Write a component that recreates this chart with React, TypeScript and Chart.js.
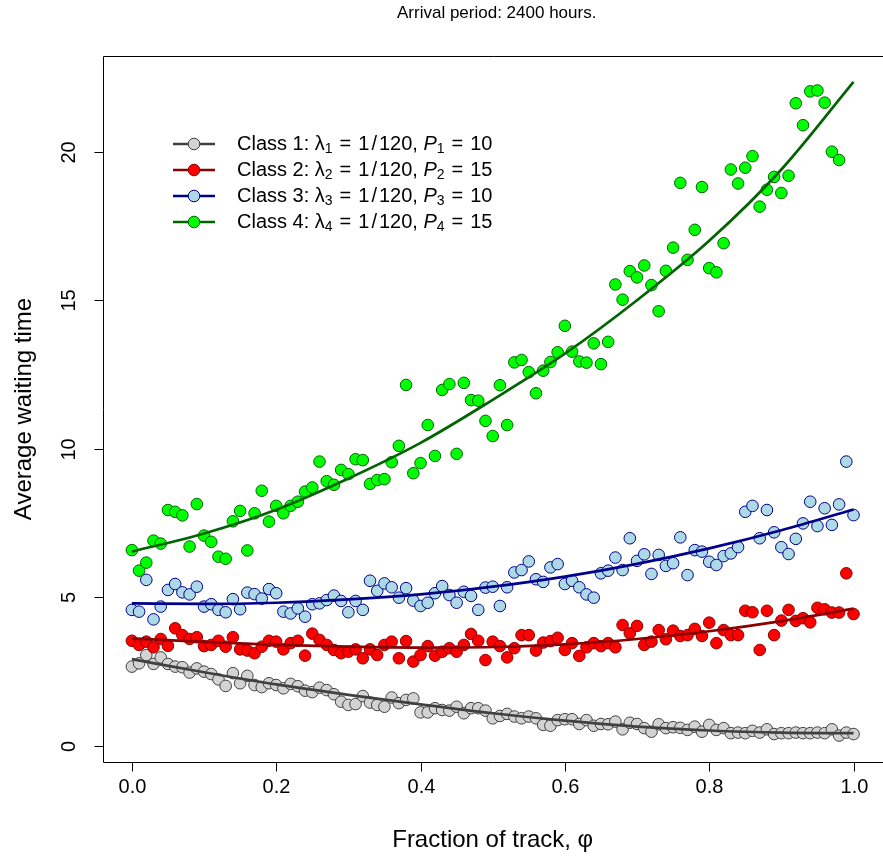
import React, { useEffect, useRef } from "react";
import { Chart, registerables } from "chart.js";

Chart.register(...registerables);

const FONT = '"Liberation Sans", Arial, Helvetica, sans-serif';

const titleText = "Arrival period: 2400 hours.";
const xAxisTitle = "Fraction of track, \u03C6";
const yAxisTitle = "Average waiting time";

const xTickValues = [0, 0.2, 0.4, 0.6, 0.8, 1.0];
const xTickLabels = ["0.0", "0.2", "0.4", "0.6", "0.8", "1.0"];
const yTickValues = [0, 5, 10, 15, 20];
const yTickLabels = ["0", "5", "10", "15", "20"];

const phi = [
  0.0, 0.01, 0.02, 0.03, 0.04, 0.05, 0.06, 0.07, 0.08, 0.09,
  0.1, 0.11, 0.12, 0.13, 0.14, 0.15, 0.16, 0.17, 0.18, 0.19,
  0.2, 0.21, 0.22, 0.23, 0.24, 0.25, 0.26, 0.27, 0.28, 0.29,
  0.3, 0.31, 0.32, 0.33, 0.34, 0.35, 0.36, 0.37, 0.38, 0.39,
  0.4, 0.41, 0.42, 0.43, 0.44, 0.45, 0.46, 0.47, 0.48, 0.49,
  0.5, 0.51, 0.52, 0.53, 0.54, 0.55, 0.56, 0.57, 0.58, 0.59,
  0.6, 0.61, 0.62, 0.63, 0.64, 0.65, 0.66, 0.67, 0.68, 0.69,
  0.7, 0.71, 0.72, 0.73, 0.74, 0.75, 0.76, 0.77, 0.78, 0.79,
  0.8, 0.81, 0.82, 0.83, 0.84, 0.85, 0.86, 0.87, 0.88, 0.89,
  0.9, 0.91, 0.92, 0.93, 0.94, 0.95, 0.96, 0.97, 0.98, 0.99,
  1.0,
];

const class1 = [
  2.67, 2.78, 3.06, 2.76, 2.98, 2.76, 2.67, 2.65, 2.47, 2.61,
  2.50, 2.42, 2.24, 2.02, 2.45, 2.11, 2.36, 2.05, 1.98, 2.11,
  2.05, 1.94, 2.09, 2.01, 1.86, 1.81, 1.96, 1.88, 1.74, 1.49,
  1.38, 1.41, 1.68, 1.46, 1.38, 1.32, 1.63, 1.44, 1.55, 1.60,
  1.13, 1.13, 1.27, 1.21, 1.19, 1.32, 1.10, 1.27, 1.27, 1.19,
  0.93, 1.01, 1.08, 0.99, 0.93, 0.99, 0.93, 0.71, 0.68, 0.87,
  0.90, 0.90, 0.74, 0.87, 0.68, 0.74, 0.73, 0.82, 0.56, 0.78,
  0.74, 0.60, 0.48, 0.73, 0.60, 0.63, 0.61, 0.54, 0.65, 0.48,
  0.71, 0.54, 0.60, 0.43, 0.45, 0.43, 0.51, 0.45, 0.56, 0.40,
  0.43, 0.43, 0.45, 0.43, 0.43, 0.45, 0.43, 0.56, 0.35, 0.45,
  0.40,
];

const class2 = [
  3.54, 3.40, 3.51, 3.32, 3.60, 3.37, 3.96, 3.73, 3.60, 3.66,
  3.36, 3.40, 3.54, 3.34, 3.66, 3.25, 3.21, 3.12, 3.34, 3.54,
  3.51, 3.25, 3.46, 3.54, 3.04, 3.78, 3.57, 3.40, 3.23, 3.12,
  3.17, 3.25, 2.95, 3.25, 3.06, 3.40, 3.51, 2.95, 3.53, 2.84,
  3.06, 3.36, 3.04, 3.17, 3.29, 3.17, 3.40, 3.77, 3.54, 2.89,
  3.51, 3.36, 2.98, 3.29, 3.73, 3.73, 3.21, 3.48, 3.53, 3.64,
  3.23, 3.46, 3.03, 3.32, 3.46, 3.36, 3.46, 3.32, 4.07, 3.79,
  4.04, 3.40, 3.51, 3.90, 3.59, 3.88, 3.70, 3.73, 3.94, 3.70,
  4.15, 3.46, 3.90, 3.73, 3.73, 4.55, 4.50, 3.23, 4.55, 3.73,
  4.22, 4.58, 4.21, 4.30, 4.16, 4.65, 4.60, 4.49, 4.49, 5.81,
  4.44,
];

const class3 = [
  4.58, 4.52, 5.59, 4.26, 4.69, 5.25, 5.45, 5.17, 5.10, 5.36,
  4.69, 4.77, 4.58, 4.50, 4.94, 4.60, 5.16, 5.11, 4.96, 5.28,
  5.14, 4.52, 4.46, 4.63, 4.35, 4.77, 4.80, 4.91, 5.06, 4.88,
  4.50, 4.88, 4.58, 5.56, 5.22, 5.47, 5.34, 4.99, 5.31, 4.89,
  4.71, 4.82, 5.14, 5.38, 5.08, 4.82, 5.19, 5.05, 4.58, 5.33,
  5.36, 4.71, 5.34, 5.84, 5.92, 6.21, 5.61, 5.52, 6.01, 6.12,
  5.45, 5.56, 5.34, 5.10, 4.99, 5.81, 5.90, 6.34, 5.92, 6.99,
  6.23, 6.45, 5.79, 6.43, 6.06, 6.15, 7.02, 5.75, 6.59, 6.54,
  6.20, 6.09, 6.39, 6.48, 6.69, 7.88, 8.08, 6.99, 7.94, 7.19,
  6.69, 6.46, 6.97, 7.49, 8.22, 7.40, 8.00, 7.44, 8.13, 9.57,
  7.77,
];

const class4 = [
  6.59, 5.90, 6.17, 6.91, 6.81, 7.94, 7.88, 7.76, 6.71, 8.14,
  7.08, 6.87, 6.37, 6.30, 7.56, 7.91, 6.58, 7.83, 8.59, 7.55,
  8.08, 7.83, 8.08, 8.22, 8.56, 8.70, 9.57, 8.91, 8.79, 9.29,
  9.15, 9.65, 9.62, 8.82, 8.95, 8.98, 9.55, 10.10, 12.15, 9.18,
  9.52, 10.80, 9.76, 11.98, 12.18, 9.83, 12.22, 11.64, 11.62, 10.94,
  10.43, 12.14, 10.80, 12.91, 12.99, 12.58, 11.87, 12.63, 12.92, 13.25,
  14.14, 13.27, 12.94, 12.90, 13.55, 12.85, 13.60, 15.53, 15.02, 15.98,
  15.77, 16.17, 15.51, 14.63, 15.99, 16.77, 18.95, 16.36, 17.37, 18.81,
  16.08, 15.94, 16.92, 19.40, 18.93, 19.46, 19.85, 18.15, 18.72, 19.15,
  18.61, 19.19, 21.63, 20.89, 22.03, 22.06, 21.65, 20.00, 19.72, 23.40,
  24.20,
];

const fitPhi = [0, 0.1, 0.2, 0.3, 0.4, 0.5, 0.6, 0.7, 0.8, 0.9, 1.0];
const fit1 = [2.92, 2.48, 2.07, 1.72, 1.40, 1.10, 0.85, 0.65, 0.52, 0.45, 0.43];
const fit2 = [3.62, 3.50, 3.40, 3.34, 3.31, 3.33, 3.42, 3.60, 3.86, 4.20, 4.62];
const fit3 = [4.80, 4.78, 4.82, 4.93, 5.10, 5.36, 5.70, 6.13, 6.65, 7.26, 7.96];
const fit4 = [6.54, 7.15, 7.95, 9.0, 10.2, 11.65, 13.2, 15.0, 17.0, 19.4, 22.35];

const classNumbers = ["1", "2", "3", "4"];
const classP = ["10", "15", "10", "15"];
const classLambdaNum = ["1", "1", "1", "1"];
const classLambdaDen = ["120", "120", "120", "120"];

const lineColors = ["#404040", "#8B0000", "#00008B", "#006400"];
const pointFills = ["#D3D3D3", "#FF0000", "#ADD8E6", "#00FF00"];
const pointBorders = ["#404040", "#8B0000", "#00008B", "#006400"];

const POINT_R = 5.8;
const LINE_W = 2.7;

function toXY(xs: number[], ys: number[]) {
  return xs.map((x, i) => ({ x, y: ys[i] }));
}

type Part = { t: string; sub?: boolean; it?: boolean; pad?: number };

function drawRich(ctx: CanvasRenderingContext2D, x: number, y: number, parts: Part[]) {
  let cx = x;
  for (const p of parts) {
    const size = p.sub ? 14 : 20;
    ctx.font = `${p.it ? "italic " : ""}${size}px ${FONT}`;
    const pad = p.pad || 0;
    cx += pad;
    ctx.fillText(p.t, cx, p.sub ? y + 5 : y);
    cx += ctx.measureText(p.t).width + pad;
  }
}

const framePlugin = {
  id: "rframe",
  afterDraw(chart: any) {
    const ctx: CanvasRenderingContext2D = chart.ctx;
    const xs = chart.scales.x;
    const ys = chart.scales.y;
    const { left, top, right, bottom } = chart.chartArea;
    const TICK = 9;
    ctx.save();
    ctx.strokeStyle = "#000";
    ctx.fillStyle = "#000";
    ctx.lineWidth = 1;
    ctx.beginPath();
    ctx.moveTo(right + 10, top + 0.5);
    ctx.lineTo(left + 0.5, top + 0.5);
    ctx.lineTo(left + 0.5, bottom + 0.5);
    ctx.lineTo(right + 10, bottom + 0.5);
    ctx.stroke();

    ctx.font = `20px ${FONT}`;
    ctx.textAlign = "center";
    ctx.textBaseline = "middle";
    xTickValues.forEach((v, i) => {
      const px = Math.round(xs.getPixelForValue(v)) + 0.5;
      ctx.beginPath();
      ctx.moveTo(px, bottom + 0.5);
      ctx.lineTo(px, bottom + 0.5 + TICK);
      ctx.stroke();
      ctx.fillText(xTickLabels[i], px, 787);
    });
    yTickValues.forEach((v, i) => {
      const py = Math.round(ys.getPixelForValue(v)) + 0.5;
      ctx.beginPath();
      ctx.moveTo(left + 0.5, py);
      ctx.lineTo(left + 0.5 - TICK, py);
      ctx.stroke();
      ctx.save();
      ctx.translate(69, py);
      ctx.rotate(-Math.PI / 2);
      ctx.fillText(yTickLabels[i], 0, 0);
      ctx.restore();
    });

    const plotCenterX = (left + xs.getPixelForValue(1.04)) / 2;
    ctx.font = `24px ${FONT}`;
    ctx.fillText(xAxisTitle, plotCenterX, 840);
    ctx.save();
    ctx.translate(24, (top + bottom) / 2);
    ctx.rotate(-Math.PI / 2);
    ctx.fillText(yAxisTitle, 0, 0);
    ctx.restore();

    ctx.font = `17px ${FONT}`;
    ctx.fillText(titleText, plotCenterX + 4, 13);

    // legend
    ctx.textAlign = "left";
    ctx.textBaseline = "middle";
    for (let i = 0; i < 4; i++) {
      const ly = 144 + 26 * i;
      ctx.strokeStyle = lineColors[i];
      ctx.lineWidth = LINE_W;
      ctx.beginPath();
      ctx.moveTo(173, ly);
      ctx.lineTo(215, ly);
      ctx.stroke();
      ctx.beginPath();
      ctx.arc(194, ly, POINT_R, 0, Math.PI * 2);
      ctx.fillStyle = pointFills[i];
      ctx.fill();
      ctx.lineWidth = 1;
      ctx.strokeStyle = pointBorders[i];
      ctx.stroke();
      ctx.fillStyle = "#000";
      drawRich(ctx, 237, ly, [
        { t: `Class ${classNumbers[i]}: \u03BB` },
        { t: classNumbers[i], sub: true },
        { t: "=", pad: 7 },
        { t: classLambdaNum[i] },
        { t: "/", pad: 2 },
        { t: `${classLambdaDen[i]}, ` },
        { t: "P", it: true },
        { t: classNumbers[i], sub: true },
        { t: "=", pad: 7 },
        { t: classP[i] },
      ]);
    }
    ctx.restore();
  },
};

export default function App() {
  const ref = useRef<HTMLCanvasElement | null>(null);
  useEffect(() => {
    if (!ref.current) return;
    const seriesY = [class1, class2, class3, class4];
    const fits = [fit1, fit2, fit3, fit4];
    const datasets: any[] = [];
    let order = 100;
    for (let i = 0; i < 4; i++) {
      datasets.push({
        type: "scatter",
        label: `Class ${classNumbers[i]}`,
        data: toXY(phi, seriesY[i]),
        pointRadius: POINT_R,
        pointBorderWidth: 1,
        pointBackgroundColor: pointFills[i],
        pointBorderColor: pointBorders[i],
        showLine: false,
        clip: 0,
        order: order--,
      });
      datasets.push({
        type: "line",
        label: `Fit ${classNumbers[i]}`,
        data: toXY(fitPhi, fits[i]),
        borderColor: lineColors[i],
        borderWidth: LINE_W,
        pointRadius: 0,
        fill: false,
        cubicInterpolationMode: "monotone",
        clip: 0,
        order: order--,
      });
    }
    const chart = new Chart(ref.current, {
      type: "scatter",
      data: { datasets },
      options: {
        animation: false,
        responsive: false,
        devicePixelRatio: 1,
        layout: { padding: { left: 103, top: 56, right: 0, bottom: 96 } },
        plugins: { legend: { display: false }, tooltip: { enabled: false }, title: { display: false } },
        scales: {
          x: { type: "linear", min: -0.04, max: 1.03143, display: false },
          y: { type: "linear", min: -0.54, max: 23.22, display: false },
        },
      },
      plugins: [framePlugin],
    });
    return () => chart.destroy();
  }, []);
  return (
    <div style={{ position: "fixed", left: 0, top: 0, width: 883, height: 858, background: "#fff" }}>
      <canvas ref={ref} width={883} height={858} style={{ display: "block" }} />
    </div>
  );
}
